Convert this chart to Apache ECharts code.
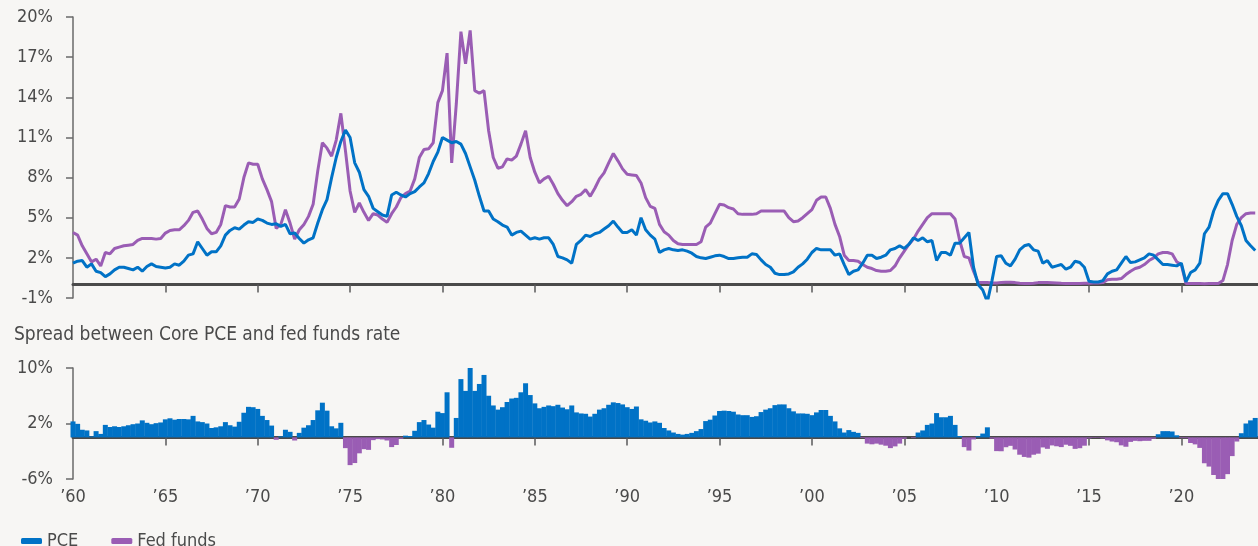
<!DOCTYPE html>
<html>
<head>
<meta charset="utf-8">
<script src="https://cdn.jsdelivr.net/npm/echarts@6/dist/echarts.min.js"></script>
<style>
  html, body { margin: 0; padding: 0; background: #f7f6f4; }
  #chart { width: 1258px; height: 546px; }
</style>
</head>
<body>
<div id="chart"></div>
<script>
// quarterly readings, 1960 Q1 .. 2024 Q1 (one row per year)
const startYear = 1960
const pce = [
  1.6, 1.75, 1.8, 1.3,
  1.55, 1.0, 0.9, 0.6,
  0.8, 1.1, 1.3, 1.3,
  1.2, 1.1, 1.3, 1.0,
  1.35, 1.55, 1.35, 1.3,
  1.25, 1.3, 1.55, 1.45,
  1.75, 2.2, 2.3, 3.2,
  2.7, 2.2, 2.45, 2.45,
  2.9, 3.7, 4.05, 4.25,
  4.15, 4.45, 4.7, 4.65,
  4.9, 4.8, 4.6, 4.5,
  4.55, 4.35, 4.5, 3.8,
  3.85, 3.45, 3.1, 3.35,
  3.5, 4.6, 5.6, 6.35,
  8.0, 9.5, 10.7, 11.55,
  11.0, 9.1, 8.4, 7.1,
  6.6, 5.7, 5.45, 5.2,
  5.1, 6.7, 6.9, 6.7,
  6.55, 6.8, 6.95, 7.3,
  7.6, 8.3, 9.2, 9.9,
  11.0, 10.8, 10.6, 10.7,
  10.5, 9.8, 8.8, 7.8,
  6.6, 5.5, 5.5, 4.9,
  4.7, 4.45, 4.3, 3.7,
  3.9, 4.0, 3.7, 3.4,
  3.5, 3.4, 3.5, 3.5,
  3.0, 2.1, 2.0, 1.85,
  1.6, 3.0, 3.3, 3.7,
  3.6, 3.8, 3.9, 4.15,
  4.4, 4.75, 4.3, 3.9,
  3.9, 4.1, 3.7, 5.0,
  4.1, 3.7, 3.4, 2.4,
  2.6, 2.7, 2.6, 2.55,
  2.6, 2.5, 2.35, 2.1,
  2.0, 1.95, 2.05, 2.15,
  2.2, 2.1, 1.95, 1.95,
  2.0, 2.05, 2.05, 2.3,
  2.25, 1.85, 1.5, 1.3,
  0.85, 0.75, 0.75, 0.8,
  0.95, 1.3, 1.55, 1.9,
  2.4, 2.7, 2.6, 2.6,
  2.6, 2.2, 2.3, 1.5,
  0.75, 1.0, 1.1, 1.6,
  2.2, 2.2, 1.95, 2.05,
  2.2, 2.6, 2.7, 2.9,
  2.7, 3.0, 3.5, 3.3,
  3.5, 3.2, 3.3, 1.8,
  2.4, 2.4, 2.2, 3.1,
  3.1, 3.5, 3.9, 1.3,
  0.0, -0.4, -1.3, 0.3,
  2.1, 2.15, 1.6, 1.4,
  1.9, 2.6, 2.9, 3.0,
  2.6, 2.5, 1.6, 1.8,
  1.3, 1.4, 1.5, 1.15,
  1.3, 1.75, 1.65, 1.3,
  0.25, 0.2, 0.2, 0.3,
  0.8, 1.0, 1.1, 1.6,
  2.1, 1.65, 1.7, 1.85,
  2.0, 2.3, 2.2, 1.85,
  1.5, 1.5, 1.45, 1.4,
  1.6, 0.2, 0.9, 1.1,
  1.6, 3.8, 4.3, 5.5,
  6.3, 6.8, 6.8, 6.0,
  5.1, 4.4, 3.3, 2.9,
  2.55
]
const fedFunds = [
  3.9, 3.7, 2.9, 2.3,
  1.7, 1.9, 1.4, 2.4,
  2.3, 2.7, 2.8, 2.9,
  2.95, 3.0, 3.3, 3.45,
  3.45, 3.45, 3.4, 3.45,
  3.85, 4.05, 4.1, 4.1,
  4.4, 4.8, 5.4, 5.5,
  4.9, 4.2, 3.8, 3.9,
  4.5, 5.9, 5.8, 5.8,
  6.4, 8.0, 9.1, 9.0,
  9.0, 7.9, 7.1, 6.2,
  4.2, 4.5, 5.6, 4.6,
  3.4, 4.1, 4.5, 5.1,
  6.0, 8.5, 10.6, 10.2,
  9.6, 10.8, 12.8, 10.0,
  7.0, 5.4, 6.1, 5.4,
  4.8, 5.3, 5.2, 4.9,
  4.65, 5.3, 5.8, 6.5,
  6.8, 7.0, 7.9, 9.5,
  10.1, 10.15, 10.6, 13.6,
  14.5, 17.3, 9.1, 13.5,
  18.9, 16.5, 19.0, 14.5,
  14.3, 14.5, 11.5, 9.5,
  8.7, 8.8, 9.4, 9.3,
  9.6, 10.5, 11.5, 9.5,
  8.4, 7.6, 7.9, 8.1,
  7.5, 6.8, 6.3, 5.9,
  6.2, 6.6, 6.75, 7.1,
  6.6, 7.2, 7.9, 8.35,
  9.1, 9.8, 9.25, 8.65,
  8.25, 8.2, 8.15, 7.6,
  6.5, 5.85, 5.7, 4.5,
  3.95, 3.7, 3.3, 3.05,
  3.0, 3.0, 3.0, 3.0,
  3.2, 4.3, 4.6, 5.3,
  6.0, 5.95, 5.75, 5.65,
  5.3, 5.25, 5.25, 5.25,
  5.3, 5.5, 5.5, 5.5,
  5.5, 5.5, 5.5, 5.0,
  4.7, 4.75, 5.0, 5.3,
  5.6, 6.3, 6.55, 6.55,
  5.7, 4.5, 3.6, 2.2,
  1.8, 1.8, 1.75, 1.5,
  1.3, 1.2, 1.05, 1.0,
  1.0, 1.05, 1.4, 2.0,
  2.5, 3.0, 3.4, 4.0,
  4.5, 5.0, 5.3, 5.3,
  5.3, 5.3, 5.3, 4.9,
  3.3, 2.1, 2.0, 1.0,
  0.17, 0.15, 0.15, 0.12,
  0.12, 0.15, 0.18, 0.18,
  0.15, 0.1, 0.08, 0.08,
  0.1, 0.15, 0.15, 0.15,
  0.14, 0.12, 0.1, 0.09,
  0.08, 0.09, 0.09, 0.1,
  0.11, 0.12, 0.13, 0.15,
  0.37, 0.4, 0.4, 0.45,
  0.75, 1.0, 1.2, 1.3,
  1.5, 1.8, 2.0, 2.3,
  2.4, 2.4, 2.3, 1.7,
  1.5, 0.08, 0.09, 0.09,
  0.08, 0.07, 0.09, 0.08,
  0.08, 0.3, 1.5, 3.3,
  4.5, 5.0, 5.3, 5.35,
  5.35
]
const yearTicks = [1960, 1965, 1970, 1975, 1980, 1985, 1990, 1995, 2000, 2005, 2010, 2015, 2020]
const yearLabels = ['’60', '’65', '’70', '’75', '’80', '’85', '’90', '’95', '’00', '’05', '’10', '’15', '’20']

const BLUE = '#0072c6'
const PURPLE = '#9a5db4'
const TEXT = '#4a4a4a'
const FONT = '"DejaVu Sans Condensed", "DejaVu Sans", sans-serif'

const quarter = (i) => startYear + i / 4
const pceData = pce.map((v, i) => [quarter(i), v])
const ffData = fedFunds.map((v, i) => [quarter(i), v])
const spreadData = fedFunds.map((v, i) => [quarter(i), +(v - pce[i]).toFixed(2)])

const chart = echarts.init(document.getElementById('chart'))

const xBase = {
  type: 'value',
  min: 1960,
  max: 2024.15,
  splitLine: { show: false },
  axisLine: { onZero: true, lineStyle: { color: '#4a4a4a', width: 3 } },
  axisTick: { show: true, customValues: yearTicks.slice(1), length: 8, lineStyle: { color: '#5a5a5a', width: 1.5 } },
}
const yBase = {
  type: 'value',
  splitLine: { show: false },
  axisLine: { show: true, onZero: false, lineStyle: { color: '#6a6a6a', width: 1.5 } },
  axisTick: { show: true, length: 7, lineStyle: { color: '#6a6a6a', width: 1.5 } },
  axisLabel: { formatter: '{value}%', color: TEXT, fontSize: 18, fontFamily: FONT, margin: 20 },
}

chart.setOption({
  backgroundColor: '#f7f6f4',
  animation: false,
  textStyle: { fontFamily: FONT },
  title: {
    text: 'Spread between Core PCE and fed funds rate',
    left: 9,
    top: 321,
    textStyle: { fontSize: 19, fontWeight: 'normal', color: TEXT, fontFamily: FONT },
  },
  legend: {
    data: ['PCE', 'Fed funds'],
    left: 16,
    top: 527,
    icon: 'roundRect',
    itemWidth: 21,
    itemHeight: 6,
    itemGap: 33,
    textStyle: { fontSize: 18, color: TEXT, fontFamily: FONT },
  },
  grid: [
    { left: 73, right: 0, top: 17, height: 281 },
    { left: 73, right: 0, top: 368, height: 111 },
  ],
  xAxis: [
    Object.assign({ gridIndex: 0, axisLabel: { show: false } }, xBase),
    Object.assign({ gridIndex: 1 }, xBase, {
      axisLabel: {
        show: true,
        customValues: yearTicks,
        margin: 9,
        color: TEXT,
        fontSize: 18,
        fontFamily: FONT,
        formatter: (v) => yearLabels[yearTicks.indexOf(Math.round(v))] || '',
      },
    }),
  ],
  yAxis: [
    Object.assign({ gridIndex: 0, min: -1, max: 20, interval: 3 }, yBase),
    Object.assign({ gridIndex: 1, min: -6, max: 10, interval: 8 }, yBase),
  ],
  series: [
    {
      name: 'Fed funds',
      type: 'line',
      data: ffData,
      showSymbol: false,
      lineStyle: { color: PURPLE, width: 3 },
      itemStyle: { color: PURPLE },
    },
    {
      name: 'PCE',
      type: 'line',
      data: pceData,
      showSymbol: false,
      lineStyle: { color: BLUE, width: 3 },
      itemStyle: { color: BLUE },
    },
    {
      name: 'Spread',
      type: 'bar',
      xAxisIndex: 1,
      yAxisIndex: 1,
      data: spreadData,
      barWidth: 5,
      itemStyle: { color: (p) => (p.value[1] >= 0 ? BLUE : PURPLE) },
    },
  ],
})
</script>
</body>
</html>
